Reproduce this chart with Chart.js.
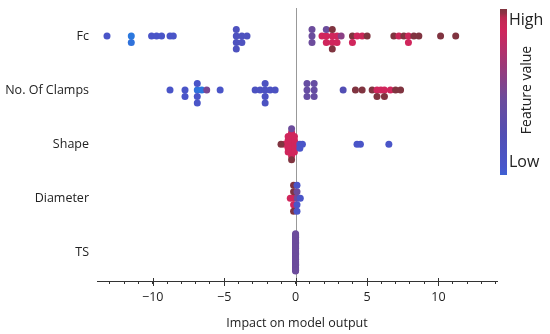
<!DOCTYPE html>
<html lang="en">
<head>
    <meta charset="UTF-8">
    <title>SHAP summary</title>
    <style>
        body {
            margin: 0;
            background: #fff;
        }
        #chartBox {
            width: 550px;
            height: 334px;
        }
    </style>
    <script src="https://cdn.jsdelivr.net/npm/chart.js"></script>
</head>
<body>
    <div id="chartBox">
        <canvas id="shapChart" width="550" height="334"></canvas>
    </div>

    <script>
        // feature names, top to bottom
        const featureNames = ['Fc', 'No. Of Clamps', 'Shape', 'Diameter', 'TS'];

        // SHAP values per feature and the (normalised) feature value used for colour
        // same x in a list = points that stack up in the swarm
        const fcShap = [-13.2, -11.5, -11.5, -10.08, -9.73, -9.38, -8.79, -8.56,
            -4.15, -4.15, -4.15, -4.15, -3.76, -3.76, -3.4,
            1.15, 1.15, 1.15, 1.85, 2.15, 2.15, 2.15, 2.57, 2.57, 2.57, 2.57, 2.9, 2.9, 3.19,
            3.98, 3.98, 4.31, 4.66, 5.01, 6.88, 7.23, 7.58, 7.9, 7.9, 8.28, 8.63, 10.15, 11.21];
        const fcFeat = [0.15, 0.0, 0.02, 0.15, 0.15, 0.15, 0.15, 0.15,
            0.22, 0.22, 0.22, 0.22, 0.22, 0.22, 0.22,
            0.5, 0.5, 0.5, 0.88, 0.88, 0.88, 0.5, 0.88, 0.88, 1.0, 1.0, 0.88, 0.88, 0.62,
            1.0, 0.88, 0.88, 0.9, 1.0, 1.0, 0.9, 1.0, 0.9, 0.88, 1.0, 1.0, 1.0, 1.0];

        const clampsShap = [-8.79, -7.74, -7.74, -6.88, -6.88, -6.88, -6.88, -6.57, -6.22, -5.28,
            -2.83, -2.48, -2.13, -2.13, -2.13, -2.13, -1.78, -1.43,
            0.8, 0.8, 0.8, 1.3, 1.3, 1.3, 3.33, 4.19, 4.66, 5.36, 5.7, 5.7, 5.97, 6.22, 6.22, 6.64, 7.0, 7.35];
        const clampsFeat = [0.15, 0.15, 0.15, 0.02, 0.15, 0.15, 0.15, 0.0, 0.55, 0.15,
            0.2, 0.2, 0.2, 0.2, 0.2, 0.2, 0.2, 0.2,
            0.45, 0.45, 0.45, 0.45, 0.45, 0.45, 0.3, 1.0, 1.0, 1.0, 0.88, 1.0, 0.88, 0.88, 1.0, 0.88, 1.0, 1.0];

        const shapeShap = [-0.28, -0.28, -0.28, -0.28, -0.28, -0.28, -0.28, -0.28, -0.28,
            -0.08, -0.08, -0.08, -0.08, -0.08,
            -0.52, -0.52, -0.52, -0.52, -0.52,
            -0.78, -1.02, 0.12, 0.3, 0.3, 0.48,
            4.3, 4.54, 6.53];
        const shapeFeat = [0.88, 0.88, 0.88, 0.88, 0.88, 0.88, 0.88, 1.0, 0.5,
            0.88, 0.88, 0.88, 0.88, 0.88,
            0.88, 0.88, 0.88, 0.88, 0.88,
            0.88, 1.0, 0.88, 0.15, 0.15, 0.15,
            0.15, 0.15, 0.15];

        const diamShap = [-0.14, -0.14, -0.14, -0.14, -0.14, 0.1, 0.1, 0.1, 0.1, 0.1, -0.37, 0.33];
        const diamFeat = [0.88, 0.88, 1.0, 1.0, 1.0, 0.5, 0.15, 0.5, 0.15, 0.15, 0.88, 0.15];

        // TS is constant in the data, so every point sits at 0 with the middle colour
        const tsShap = [0, 0, 0, 0, 0, 0, 0, 0, 0, 0, 0, 0, 0, 0, 0, 0, 0, 0, 0, 0, 0, 0,
            0, 0, 0, 0, 0, 0, 0, 0, 0, 0, 0, 0, 0, 0, 0, 0, 0, 0, 0, 0, 0, 0, 0];
        const tsFeat = null;

        const xTickLabels = [-10, -5, 0, 5, 10];

        // colormap blue -> purple -> red -> dark red
        const cmapStops = [
            [0.00, [43, 120, 222]],
            [0.12, [72, 86, 204]],
            [0.30, [82, 78, 180]],
            [0.50, [108, 76, 156]],
            [0.70, [160, 56, 118]],
            [0.88, [208, 38, 92]],
            [0.95, [192, 42, 82]],
            [0.985, [128, 52, 64]],
            [1.00, [128, 52, 64]]
        ];

        function cmap(t) {
            t = Math.max(0, Math.min(1, t));
            for (let i = 1; i < cmapStops.length; i++) {
                const [p1, c1] = cmapStops[i];
                const [p0, c0] = cmapStops[i - 1];
                if (t <= p1) {
                    const f = (t - p0) / (p1 - p0 || 1);
                    const c = c0.map((v, k) => Math.round(v + (c1[k] - v) * f));
                    return `rgb(${c[0]},${c[1]},${c[2]})`;
                }
            }
            return 'rgb(128,52,64)';
        }

        // beeswarm stacking the way shap does it (100 bins, alternate down / up)
        function swarm(vals) {
            const lo = Math.min(...vals), hi = Math.max(...vals);
            const quant = vals.map(v => Math.round(100 * (v - lo) / (hi - lo + 1e-8)));
            const order = vals.map((_, i) => i).sort((a, b) => quant[a] - quant[b]);
            const ys = vals.map(() => 0);
            let layer = 0, lastBin = -1;
            for (const i of order) {
                if (quant[i] !== lastBin) layer = 0;
                ys[i] = Math.ceil(layer / 2) * ((layer % 2) * 2 - 1);
                layer++;
                lastBin = quant[i];
            }
            const m = Math.max(...ys.map(y => y + 1));
            return ys.map(y => y * 0.9 * 0.4 / m);
        }

        const rows = [
            [fcShap, fcFeat],
            [clampsShap, clampsFeat],
            [shapeShap, shapeFeat],
            [diamShap, diamFeat],
            [tsShap, tsFeat]
        ];

        const points = [];
        const colors = [];
        rows.forEach(([shap, feat], r) => {
            const rowPos = featureNames.length - 1 - r;
            const off = swarm(shap);
            shap.forEach((v, i) => {
                points.push({ x: v, y: rowPos - off[i] });
                colors.push(cmap(feat ? feat[i] : 0.5));
            });
        });

        const fontFam = '"Open Sans", "DejaVu Sans", sans-serif';

        // zero line, longer major ticks, colour bar
        const extras = {
            id: 'extras',
            beforeDatasetsDraw(chart) {
                const { ctx, chartArea, scales } = chart;
                const x0 = scales.x.getPixelForValue(0);
                ctx.save();
                ctx.strokeStyle = '#999';
                ctx.lineWidth = 1;
                ctx.beginPath();
                ctx.moveTo(Math.round(x0) + 0.5, chartArea.top);
                ctx.lineTo(Math.round(x0) + 0.5, chartArea.bottom);
                ctx.stroke();
                ctx.restore();
            },
            afterDraw(chart) {
                const { ctx, chartArea, scales } = chart;
                ctx.save();
                ctx.strokeStyle = '#333';
                ctx.lineWidth = 1;
                xTickLabels.forEach(v => {
                    const px = Math.round(scales.x.getPixelForValue(v)) + 0.5;
                    ctx.beginPath();
                    ctx.moveTo(px, chartArea.bottom - 3);
                    ctx.lineTo(px, chartArea.bottom + 5);
                    ctx.stroke();
                });

                const bx = 500, top = 9, bottom = 175, bw = 7;
                const g = ctx.createLinearGradient(0, bottom, 0, top);
                for (let i = 0; i <= 40; i++) g.addColorStop(i / 40, cmap(0.08 + 0.92 * i / 40));
                ctx.fillStyle = g;
                ctx.fillRect(bx, top, bw, bottom - top);

                ctx.fillStyle = '#222';
                ctx.font = '16px ' + fontFam;
                ctx.textAlign = 'left';
                ctx.textBaseline = 'middle';
                ctx.fillText('High', 509, 20);
                ctx.fillText('Low', 509, 162);

                ctx.translate(527, 90);
                ctx.rotate(-Math.PI / 2);
                ctx.textAlign = 'center';
                ctx.font = '14px ' + fontFam;
                ctx.fillText('Feature value', 0, 0);
                ctx.restore();
            }
        };

        const ctx = document.getElementById('shapChart').getContext('2d');
        const shapChart = new Chart(ctx, {
            type: 'scatter',
            data: {
                datasets: [{
                    data: points,
                    backgroundColor: colors,
                    borderWidth: 0,
                    pointRadius: 3.5,
                    pointHoverRadius: 3.5
                }]
            },
            options: {
                responsive: false,
                animation: false,
                layout: { padding: { top: 8, right: 53, left: 0, bottom: 0 } },
                plugins: {
                    legend: { display: false },
                    tooltip: { enabled: false }
                },
                scales: {
                    x: {
                        type: 'linear',
                        min: -13.9,
                        max: 14.1,
                        afterFit(scale) {
                            scale.height = 53;
                            scale.paddingLeft = 0;
                            scale.paddingRight = 0;
                        },
                        afterBuildTicks(scale) {
                            const t = [];
                            for (let v = Math.ceil(scale.min); v <= Math.floor(scale.max); v++) t.push({ value: v });
                            scale.ticks = t;
                        },
                        grid: {
                            drawOnChartArea: false,
                            drawTicks: true,
                            tickLength: 3,
                            tickColor: '#333'
                        },
                        border: { display: true, color: '#333', width: 1 },
                        ticks: {
                            autoSkip: false,
                            maxRotation: 0,
                            padding: 6,
                            color: '#222',
                            font: { family: fontFam, size: 12.5 },
                            callback: v => xTickLabels.includes(Math.round(v)) ? String(Math.round(v)).replace('-', '\u2212') : ''
                        },
                        title: {
                            display: true,
                            text: 'Impact on model output',
                            color: '#222',
                            font: { family: fontFam, size: 12.5 },
                            padding: { top: 0, bottom: 3 }
                        }
                    },
                    y: {
                        type: 'linear',
                        min: -0.527,
                        max: 4.517,
                        afterFit(scale) {
                            scale.width = 97;
                            scale.paddingTop = 0;
                            scale.paddingBottom = 0;
                        },
                        afterBuildTicks(scale) {
                            scale.ticks = featureNames.map((_, i) => ({ value: i }));
                        },
                        grid: { display: false, drawTicks: false },
                        border: { display: false },
                        ticks: {
                            padding: 8,
                            color: '#222',
                            font: { family: fontFam, size: 12.5 },
                            callback: v => featureNames[featureNames.length - 1 - v]
                        }
                    }
                }
            },
            plugins: [extras]
        });
    </script>
</body>
</html>
